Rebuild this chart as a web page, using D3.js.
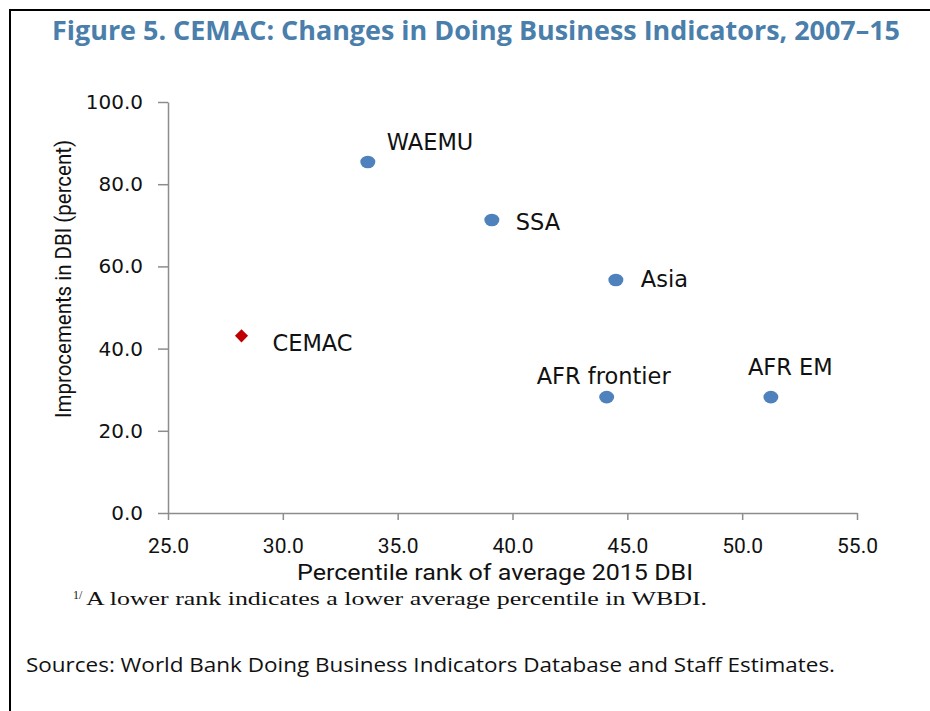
<!DOCTYPE html>
<html>
<head>
<meta charset="utf-8" />
<title>CEMAC: Changes in Doing Business Indicators</title>
<style>
  body { margin: 0; background: #fff; }
  svg { display: block; }
  .title { font-family: "Open Sans", sans-serif; font-weight: bold; fill: #4a7eab; }
  .ytick text { font-family: "DejaVu Sans", sans-serif; font-size: 20px; fill: #111; }
  .xtick text { font-family: "Roboto", sans-serif; font-size: 21px; fill: #111; }
  .axis path, .axis line { stroke: #8c8c8c; stroke-width: 1.5px; }
  .axtitle { font-family: "Roboto", sans-serif; font-size: 22px; fill: #111; }
  .lbl { font-family: "DejaVu Sans", sans-serif; font-size: 22.5px; fill: #111; }
  .note { font-family: "Liberation Serif", "DejaVu Serif", serif; font-size: 19px; fill: #111; }
  .src { font-family: "Open Sans", sans-serif; font-size: 20px; fill: #111; }
</style>
</head>
<body>
<div id="chart"></div>
<script src="https://d3js.org/d3.v7.min.js"></script>
<script>
// data
var groups = ["WAEMU", "SSA", "Asia", "CEMAC", "AFR frontier", "AFR EM"];
var rank2015 = [33.7, 39.1, 44.5, 28.2, 44.1, 51.25];
var improvement = [85.4, 71.3, 56.7, 43.1, 28.2, 28.2];
var xTicks = [25, 30, 35, 40, 45, 50, 55];
var yTicks = [0, 20, 40, 60, 80, 100];

// label placement relative to the marker (layout only)
var labelDx = { "WAEMU": 19, "SSA": 24, "Asia": 25, "CEMAC": 31, "AFR frontier": -70, "AFR EM": -23 };
var labelDy = { "WAEMU": -20, "SSA": 2, "Asia": -1, "CEMAC": 7, "AFR frontier": -21, "AFR EM": -30 };

var W = 930, H = 711;
var svg = d3.select("#chart").append("svg").attr("width", W).attr("height", H);

// frame: left and top rules only
svg.append("line").attr("x1", 10).attr("x2", 10).attr("y1", 9).attr("y2", H)
  .attr("stroke", "#000").attr("stroke-width", 2);
svg.append("line").attr("x1", 9).attr("x2", W).attr("y1", 10).attr("y2", 10)
  .attr("stroke", "#000").attr("stroke-width", 2);

svg.append("text").attr("class", "title")
  .attr("x", 52).attr("y", 40)
  .attr("font-size", 27)
  .attr("textLength", 848).attr("lengthAdjust", "spacingAndGlyphs")
  .text("Figure 5. CEMAC: Changes in Doing Business Indicators, 2007\u201315");

var x = d3.scaleLinear().domain([25, 55]).range([168, 857]);
var y = d3.scaleLinear().domain([0, 100]).range([513, 102]);

svg.append("g").attr("class", "axis ytick")
  .attr("transform", "translate(168,0)")
  .call(d3.axisLeft(y).tickValues(yTicks).tickFormat(d3.format(".1f")).tickSize(10).tickSizeOuter(0).tickPadding(15));

svg.append("g").attr("class", "axis xtick")
  .attr("transform", "translate(0,513)")
  .call(d3.axisBottom(x).tickValues(xTicks).tickFormat(d3.format(".1f")).tickSize(7).tickSizeOuter(0).tickPadding(18));

svg.append("text").attr("class", "axtitle")
  .attr("text-anchor", "middle")
  .attr("x", 495).attr("y", 580)
  .attr("textLength", 396).attr("lengthAdjust", "spacingAndGlyphs")
  .text("Percentile rank of average 2015 DBI");

svg.append("text").attr("class", "axtitle")
  .attr("text-anchor", "middle")
  .attr("transform", "translate(71,279) rotate(-90)")
  .attr("textLength", 278).attr("lengthAdjust", "spacingAndGlyphs")
  .text("Improcements in DBI (percent)");

var pts = groups.map(function(g, i) {
  return { name: g, x: rank2015[i], y: improvement[i] };
});

var marks = svg.append("g");
marks.selectAll("ellipse")
  .data(pts.filter(function(d) { return d.name !== "CEMAC"; }))
  .enter().append("ellipse")
  .attr("cx", function(d) { return x(d.x); })
  .attr("cy", function(d) { return y(d.y); })
  .attr("rx", 7.5).attr("ry", 6.3)
  .attr("fill", "#4f81bd");

marks.selectAll("path")
  .data(pts.filter(function(d) { return d.name === "CEMAC"; }))
  .enter().append("path")
  .attr("d", d3.symbol().type(d3.symbolDiamond2).size(110))
  .attr("transform", function(d) { return "translate(" + x(d.x) + "," + y(d.y) + ")"; })
  .attr("fill", "#c00000");

svg.append("g").selectAll("text")
  .data(pts)
  .enter().append("text")
  .attr("class", "lbl")
  .attr("x", function(d) { return x(d.x) + labelDx[d.name]; })
  .attr("y", function(d) { return y(d.y) + labelDy[d.name]; })
  .attr("dy", "0.35em")
  .text(function(d) { return d.name; });

var note = svg.append("text").attr("class", "note").attr("x", 73).attr("y", 605);
note.append("tspan").attr("font-size", 12).attr("dy", -6).text("1/");
note.append("tspan").attr("x", 86).attr("dy", 6)
  .attr("textLength", 621).attr("lengthAdjust", "spacingAndGlyphs")
  .text("A lower rank indicates a lower average percentile in WBDI.");

svg.append("text").attr("class", "src")
  .attr("x", 26).attr("y", 672)
  .attr("textLength", 809).attr("lengthAdjust", "spacingAndGlyphs")
  .text("Sources: World Bank Doing Business Indicators Database and Staff Estimates.");
</script>
</body>
</html>
